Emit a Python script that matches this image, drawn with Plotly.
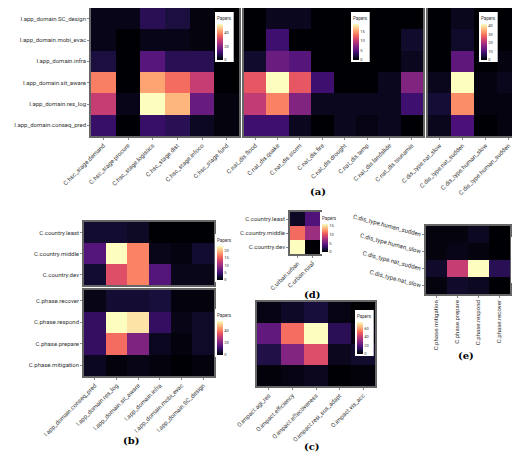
import plotly.graph_objects as go

W, H = 520, 452

app_rows = ["I.app_domain.conseq_pred", "I.app_domain.res_log", "I.app_domain.sit_aware",
            "I.app_domain.infra", "I.app_domain.mobi_evac", "I.app_domain.SC_design"]
hsc_cols = ["C.hsc_stage.demand", "C.hsc_stage.procure", "C.hsc_stage.logistics",
            "C.hsc_stage.dist", "C.hsc_stage.infoco", "C.hsc_stage.fund"]
nat_cols = ["C.nat_dis.flood", "C.nat_dis.quake", "C.nat_dis.storm", "C.nat_dis.fire",
            "C.nat_dis.drought", "C.nat_dis.temp", "C.nat_dis.landslide", "C.nat_dis.tsunamis"]
dtype_cols = ["C.dis_type.nat_slow", "C.dis_type.nat_sudden", "C.dis_type.human_slow",
              "C.dis_type.human_sudden"]

# rows bottom -> top
a1_z = [[10, 0, 10, 8, 3, 1], [28, 2, 52, 44, 16, 1], [38, 0, 42, 36, 28, 0],
        [6, 0, 14, 8, 8, 0], [2, 0, 2, 2, 1, 0], [2, 2, 8, 6, 1, 0]]
a2_z = [[4, 4, 1, 0, 1, 0.5, 1, 0], [10, 14, 7, 1, 1, 1, 1, 4], [12, 19, 12, 4, 0, 0, 1, 7],
        [1.5, 6, 5, 0, 0, 0, 0, 1], [0, 4, 0, 0, 0, 0, 0, 1.5], [0, 1, 1, 0, 0, 0, 0, 0]]
a3_z = [[2, 10, 0, 1], [4, 32, 1, 1], [2, 42, 1, 2], [0, 12, 0, 1], [0, 3, 0, 0], [0, 2, 0, 0]]

country_rows = ["C.country.dev", "C.country.middle", "C.country.least"]
b_cols = ["I.app_domain.conseq_pred", "I.app_domain.res_log", "I.app_domain.sit_aware",
          "I.app_domain.infra", "I.app_domain.mobi_evac", "I.app_domain.SC_design"]
b1_z = [[2, 14, 17, 6, 1, 1], [6, 23, 17, 1, 0.5, 2], [2, 2, 1.5, 0, 0, 0]]
phase_rows = ["C.phase.mitigation", "C.phase.prepare", "C.phase.respond", "C.phase.recover"]
b2_z = [[3, 1, 2, 1, 0, 1], [10, 38, 20, 3, 1, 4], [10, 55, 52, 10, 2, 4], [2, 5, 5, 6, 1, 1]]

impact_cols = ["O.impact.agi_res", "O.impact.efficiency", "O.impact.effectiveness",
               "O.impact.resi_sus_adapt", "O.impact.vis_acc"]
c_rows = ["r4", "r3", "r2", "r1"]
c_z = [[1, 2, 4, 0, 1], [10, 28, 45, 4, 6], [22, 52, 75, 12, 2], [2, 5, 8, 2, 0]]

urban_cols = ["C.urban.urban", "C.urban.rural"]
d_z = [[16, 0], [11, 7], [1, 4]]

e_rows = ["C.dis_type.nat_slow", "C.dis_type.nat_sudden", "C.dis_type.human_slow",
          "C.dis_type.human_sudden"]
e_cols = ["C.phase.mitigation", "C.phase.prepare", "C.phase.respond", "C.phase.recover"]
e_z = [[1, 4, 3, 0], [4, 28, 52, 8], [1, 2, 1, 0], [1, 1, 3, 0]]

FONT = "Roboto"
TXT = "#333333"
fig = go.Figure()


def px_x(v):
    return v / W


def px_y(v):
    return 1 - v / H


def panel(i, x, y, z, box, cb, xangle=-45, show_y=True, yangle=0):
    x0, y0, x1, y1 = box
    xa = "xaxis" if i == 1 else f"xaxis{i}"
    ya = "yaxis" if i == 1 else f"yaxis{i}"
    fig.add_trace(go.Heatmap(
        x=x, y=y, z=z, colorscale="Magma",
        xaxis="x" if i == 1 else f"x{i}", yaxis="y" if i == 1 else f"y{i}",
        colorbar=dict(x=px_x(cb[0]), y=px_y(cb[1]), yanchor="top", xanchor="left",
                      len=cb[2] / H, lenmode="fraction", thickness=6,
                      outlinewidth=0, bgcolor="white", xpad=2, ypad=2,
                      title=dict(text="Papers", font=dict(size=4.5, color=TXT)),
                      tickfont=dict(size=4, color=TXT)),
    ))
    fig.update_layout(**{
        xa: dict(domain=[px_x(x0), px_x(x1)], anchor="y" if i == 1 else f"y{i}",
                 automargin=False, tickangle=xangle, tickfont=dict(size=6, color=TXT),
                 showline=True, mirror=True, linecolor="#666", linewidth=1.5,
                 ticks="outside", ticklen=2, tickcolor="#888"),
        ya: dict(domain=[px_y(y1), px_y(y0)], anchor="x" if i == 1 else f"x{i}",
                 automargin=False, showticklabels=show_y, tickangle=yangle,
                 tickfont=dict(size=6, color=TXT),
                 showline=True, mirror=True, linecolor="#666", linewidth=1.5,
                 ticks="outside" if show_y else "", ticklen=2, tickcolor="#888"),
    })


panel(1, hsc_cols, app_rows, a1_z, (83, 0, 231, 128), (207, 4, 50))
panel(2, nat_cols, app_rows, a2_z, (236, 0, 415, 128), (343, 4, 50), show_y=False)
panel(3, dtype_cols, app_rows, a3_z, (420, 0, 512, 128), (471, 4, 50), show_y=False)
panel(4, b_cols, country_rows, b1_z, (76, 214, 206, 277), (207, 226, 48))
fig.update_layout(xaxis4=dict(showticklabels=False, ticks=""))
panel(5, b_cols, phase_rows, b2_z, (76, 282, 206, 368), (207, 301, 48))
panel(6, impact_cols, c_rows, c_z, (249, 294, 367, 378), (347, 302, 46), show_y=False)
panel(7, urban_cols, country_rows, d_z, (282, 204, 312, 246), (312, 204, 42))
panel(8, e_cols, e_rows, e_z, (418, 218, 502, 286), (503, 229, 46), xangle=-90, yangle=15)

for txt, x, y in [("(a)", 310, 183), ("(b)", 113, 440), ("(c)", 304, 446),
                  ("(d)", 304, 286), ("(e)", 468, 355)]:
    fig.add_annotation(text=f"<b>{txt}</b>", x=px_x(x), y=px_y(y), xref="paper", yref="paper",
                       showarrow=False, font=dict(family="DejaVu Serif", size=10, color="black"))

fig.update_layout(width=W, height=H, margin=dict(l=0, r=0, t=0, b=0, autoexpand=False),
                  paper_bgcolor="white", plot_bgcolor="white",
                  font=dict(family=FONT, size=6), showlegend=False)

fig.write_html("out.html")
